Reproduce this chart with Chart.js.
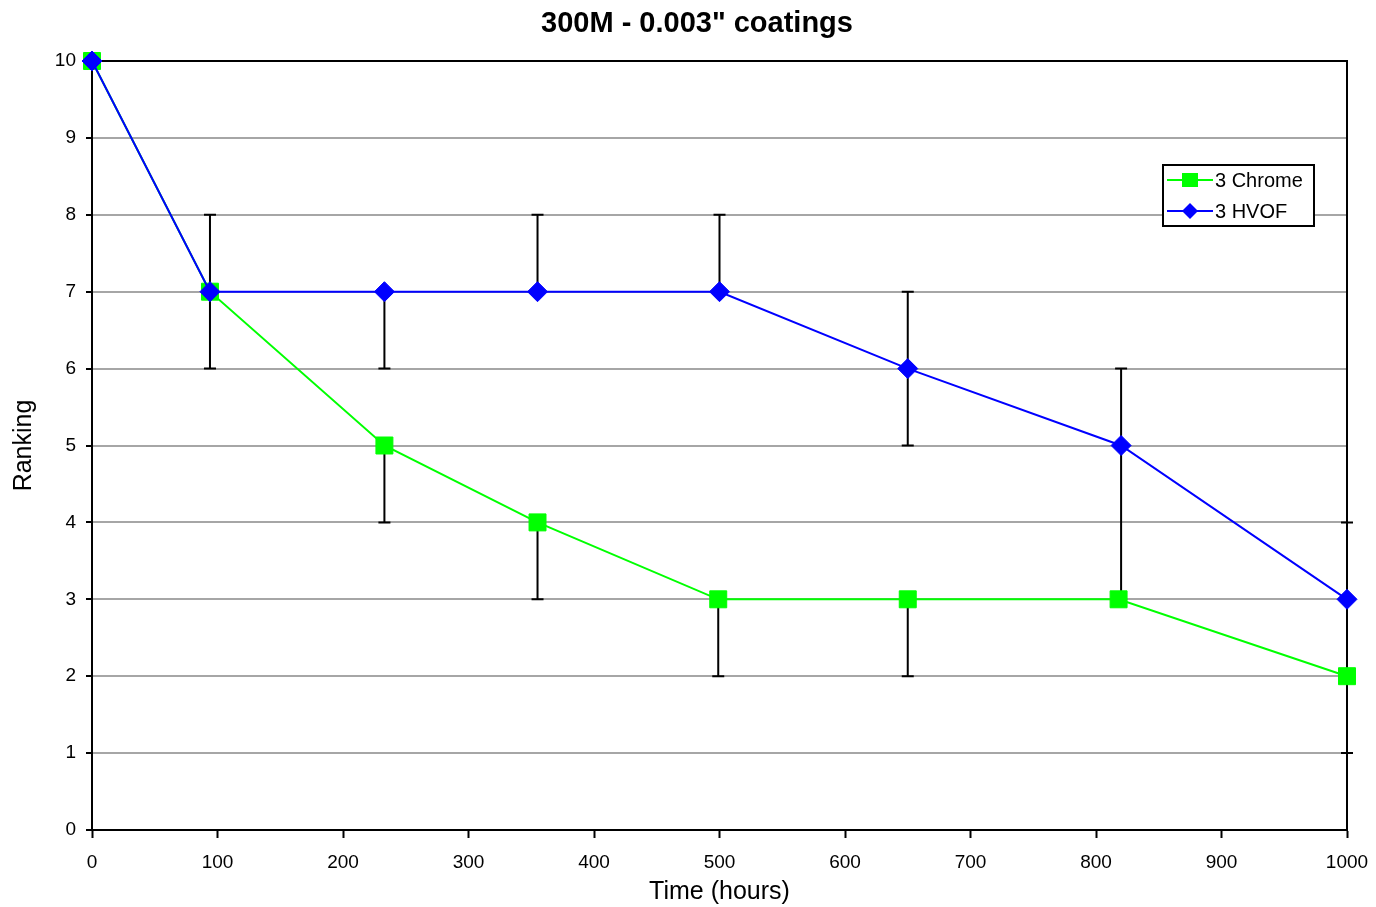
<!DOCTYPE html>
<html><head><meta charset="utf-8">
<script src="https://cdn.jsdelivr.net/npm/chart.js@4.4.1/dist/chart.umd.min.js"></script>
<style>html,body{margin:0;padding:0;background:#fff;overflow:hidden}canvas{display:block}</style>
</head><body>
<canvas id="c" width="1376" height="907"></canvas>
<script>
// ---- data ----
const chartTitle = '300M - 0.003" coatings';
const xAxisTitle = 'Time (hours)';
const yAxisTitle = 'Ranking';
const seriesNames = ['3 Chrome', '3 HVOF'];

const chromeTimes    = [0, 94, 233, 355, 499, 650, 818, 1000];
const chromeRank     = [10, 7, 5, 4, 3, 3, 3, 2];
const chromeErrPlus  = [0, 0, 0, 0, 0, 0, 0, 0];
const chromeErrMinus = [0, 1, 1, 1, 1, 1, 0, 1];

const hvofTimes    = [0, 94, 233, 355, 500, 650, 820, 1000];
const hvofRank     = [10, 7, 7, 7, 7, 6, 5, 3];
const hvofErrPlus  = [0, 1, 0, 1, 1, 1, 1, 1];
const hvofErrMinus = [0, 0, 1, 0, 0, 1, 2, 0];

const xMin = 0, xMax = 1000, xStep = 100;
const yMin = 0, yMax = 10, yStep = 1;

const FONT = "'Liberation Sans', Arial, sans-serif";
const GREEN = '#00ff00', BLUE = '#0000ff';

function pts(xs, ys) { return xs.map((x, i) => ({x: x, y: ys[i]})); }

const titleDraw = {
  id: 'titleDraw',
  afterDraw(chart) {
    const ctx = chart.ctx;
    ctx.save();
    ctx.fillStyle = '#000';
    ctx.font = 'bold 29px ' + FONT;
    ctx.textAlign = 'center'; ctx.textBaseline = 'middle';
    ctx.fillText(chartTitle, 697, 24);
    ctx.restore();
  }
};

const errorBars = {
  id: 'errorBars',
  beforeDatasetsDraw(chart) {
    const ctx = chart.ctx, xs = chart.scales.x, ys = chart.scales.y, a = chart.chartArea;
    ctx.save();
    ctx.strokeStyle = '#000'; ctx.lineWidth = 2;
    ctx.strokeRect(a.left, a.top, a.right - a.left, a.bottom - a.top);
    ctx.restore();
    const sets = [
      [chromeTimes, chromeRank, chromeErrPlus, chromeErrMinus],
      [hvofTimes, hvofRank, hvofErrPlus, hvofErrMinus]
    ];
    ctx.save();
    ctx.strokeStyle = '#000'; ctx.lineWidth = 2;
    const cap = 6;
    sets.forEach(([tx, ry, ep, em]) => {
      tx.forEach((t, i) => {
        const px = xs.getPixelForValue(t);
        const py = ys.getPixelForValue(ry[i]);
        if (ep[i] > 0) {
          const hy = ys.getPixelForValue(ry[i] + ep[i]);
          ctx.beginPath(); ctx.moveTo(px, py); ctx.lineTo(px, hy);
          ctx.moveTo(px - cap, hy); ctx.lineTo(px + cap, hy); ctx.stroke();
        }
        if (em[i] > 0) {
          const ly = ys.getPixelForValue(ry[i] - em[i]);
          ctx.beginPath(); ctx.moveTo(px, py); ctx.lineTo(px, ly);
          ctx.moveTo(px - cap, ly); ctx.lineTo(px + cap, ly); ctx.stroke();
        }
      });
    });
    ctx.restore();
  }
};

const boxLegend = {
  id: 'boxLegend',
  afterDraw(chart) {
    const ctx = chart.ctx;
    const bx = 1163, by = 165, bw = 151, bh = 61;
    ctx.save();
    ctx.fillStyle = '#fff';
    ctx.fillRect(bx, by, bw, bh);
    ctx.strokeStyle = '#000'; ctx.lineWidth = 2;
    ctx.strokeRect(bx, by, bw, bh);
    const rows = [
      {y: 180, color: GREEN, style: 'rect'},
      {y: 211, color: BLUE, style: 'rectRot'}
    ];
    rows.forEach((row, i) => {
      ctx.strokeStyle = row.color; ctx.lineWidth = 2;
      ctx.beginPath(); ctx.moveTo(bx + 4, row.y); ctx.lineTo(bx + 50, row.y); ctx.stroke();
      ctx.fillStyle = row.color;
      ctx.beginPath();
      if (row.style === 'rect') { ctx.rect(bx + 27 - 8, row.y - 7, 16, 14); }
      else { ctx.moveTo(bx + 19, row.y); ctx.lineTo(bx + 27, row.y - 8); ctx.lineTo(bx + 35, row.y); ctx.lineTo(bx + 27, row.y + 8); ctx.closePath(); }
      ctx.fill();
      ctx.fillStyle = '#000';
      ctx.font = '20px ' + FONT;
      ctx.textBaseline = 'middle'; ctx.textAlign = 'left';
      ctx.fillText(seriesNames[i], bx + 52, row.y + 1);
    });
    ctx.restore();
  }
};

new Chart(document.getElementById('c'), {
  type: 'line',
  data: {
    datasets: [
      {
        label: seriesNames[0], data: pts(chromeTimes, chromeRank), order: 1,
        borderColor: GREEN, backgroundColor: GREEN, borderWidth: 2,
        pointStyle: 'rect', pointRadius: 12, pointBorderWidth: 1,
        pointBackgroundColor: GREEN, pointBorderColor: GREEN, tension: 0, clip: false
      },
      {
        label: seriesNames[1], data: pts(hvofTimes, hvofRank), order: 0,
        borderColor: BLUE, backgroundColor: BLUE, borderWidth: 2,
        pointStyle: 'rectRot', pointRadius: 10, pointBorderWidth: 1,
        pointBackgroundColor: BLUE, pointBorderColor: BLUE, tension: 0, clip: false
      }
    ]
  },
  options: {
    responsive: false, animation: false, devicePixelRatio: 1,
    layout: {padding: {left: 0, right: 29, top: 61, bottom: 0}},
    plugins: {
      legend: {display: false}, tooltip: {enabled: false}, title: {display: false}
    },
    scales: {
      x: {
        type: 'linear', min: xMin, max: xMax,
        ticks: {stepSize: xStep, color: '#000', font: {family: FONT, size: 19}, padding: 13, maxRotation: 0,
                callback: v => String(v)},
        grid: {drawOnChartArea: false, drawTicks: true, tickLength: 8, tickColor: '#000', tickWidth: 2},
        border: {display: true, color: '#000', width: 2},
        title: {display: true, text: xAxisTitle, color: '#000', font: {family: FONT, size: 25}, padding: {top: 0, bottom: 0}},
        afterFit(s) { s.height = 77; s.paddingRight = 0; s.paddingLeft = 0; }
      },
      y: {
        type: 'linear', min: yMin, max: yMax,
        ticks: {stepSize: yStep, color: '#000', font: {family: FONT, size: 19}, padding: 10},
        grid: {color: '#a6a6a6', lineWidth: 2, drawTicks: true, tickLength: 6, tickColor: '#000', tickWidth: 2},
        border: {display: true, color: '#000', width: 2},
        title: {display: true, text: yAxisTitle, color: '#000', font: {family: FONT, size: 25}, padding: {top: 9, bottom: 0}},
        afterFit(s) { s.width = 92; s.paddingTop = 0; s.paddingBottom = 0; }
      }
    }
  },
  plugins: [errorBars, boxLegend, titleDraw]
});
</script>
</body></html>
